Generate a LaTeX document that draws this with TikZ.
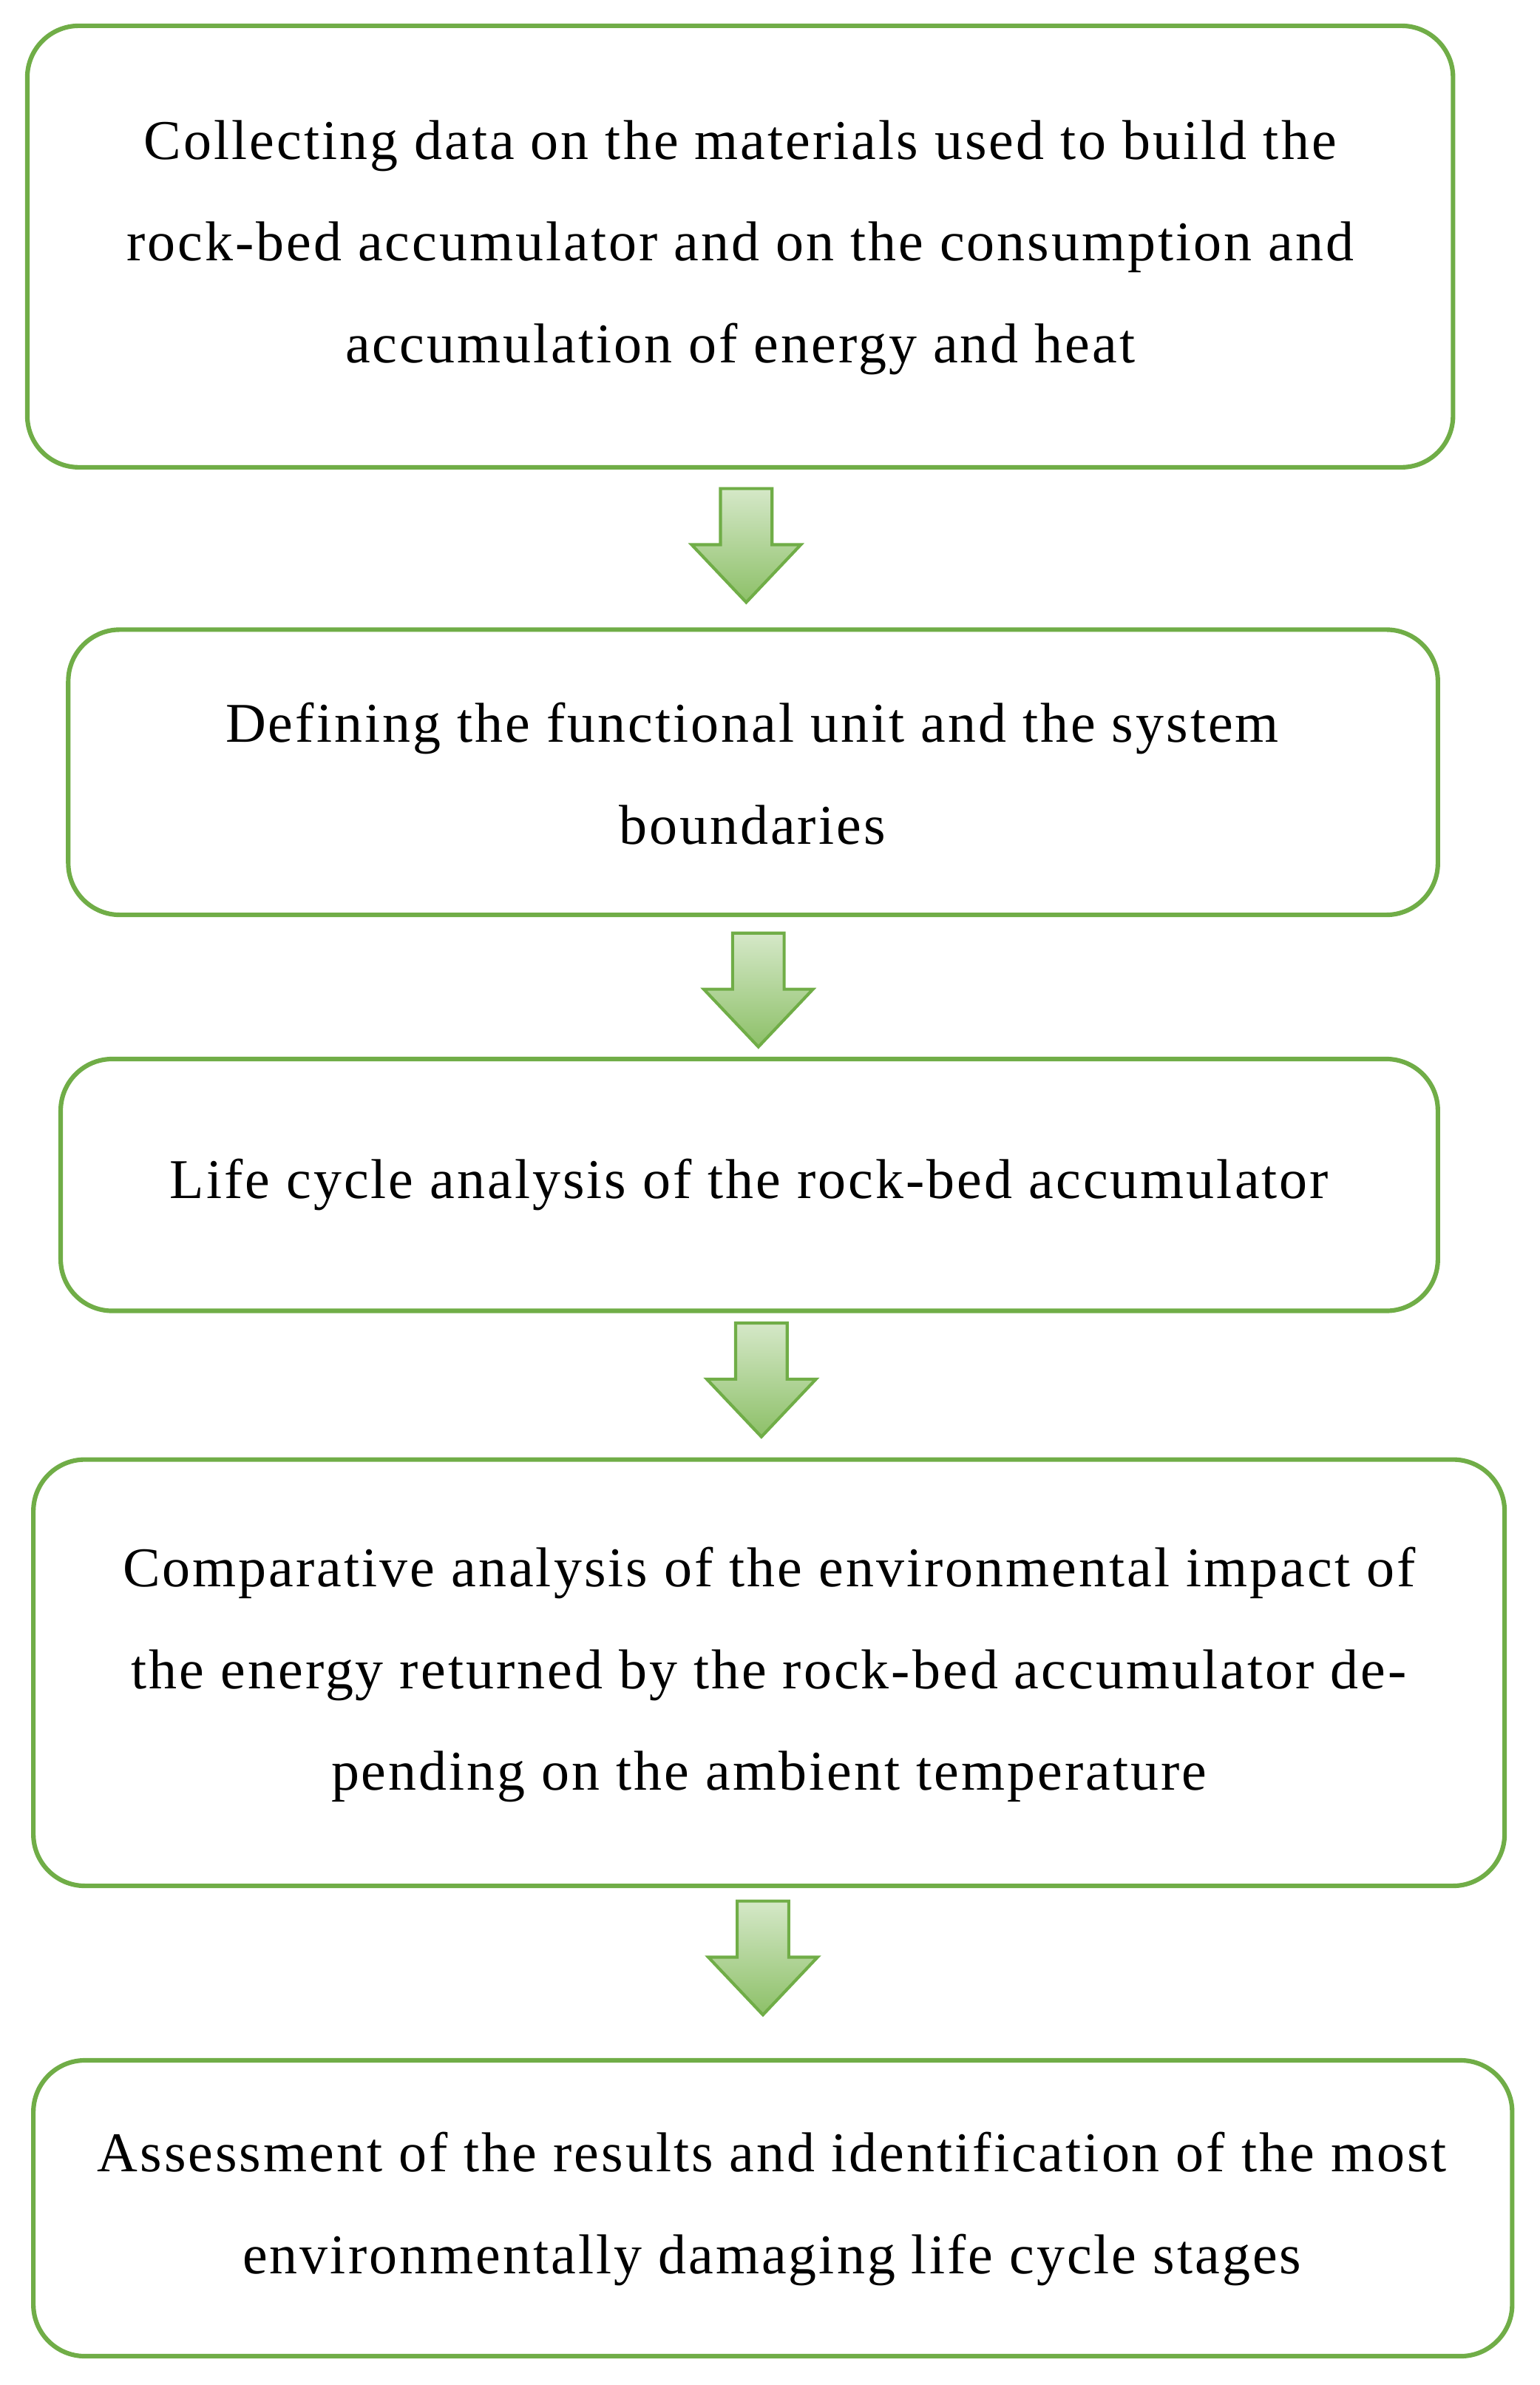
\documentclass[tikz,border=0pt]{standalone}
\usepackage{fontspec}
\setmainfont{Liberation Serif}[LetterSpace=4]
\begin{document}
\begin{tikzpicture}[x=1pt,y=-1pt,
 box/.style={draw=gbord,line width=3pt,rounded corners=34pt},
 txt/.style={align=center,font=\fontsize{37}{67}\selectfont},
 arr/.style={draw=gbord,line width=2pt,top color=gtop,bottom color=gbot,line join=miter}]
\definecolor{gbord}{HTML}{70AD47}
\definecolor{gtop}{HTML}{D5E8C8}
\definecolor{gbot}{HTML}{8DC068}
\useasboundingbox (0,0) rectangle (1015,1572);
\draw[box] (18,17) rectangle (958,308);
\node[txt] (t1) at (488,163) {Collecting data on the materials used to build the\\rock-bed accumulator and on the consumption and\\accumulation of energy and heat};
\draw[box] (45,415) rectangle (948,603);
\node[txt] (t2) at (496,510) {Defining the functional unit and the system\\boundaries};
\draw[box] (40,698) rectangle (948,864);
\node[txt] (t3) at (494,781) {Life cycle analysis of the rock-bed accumulator};
\draw[box] (22,962) rectangle (992,1243);
\node[txt] (t4) at (507,1104) {Comparative analysis of the environmental impact of\\the energy returned by the rock-bed accumulator de-\\pending on the ambient temperature};
\draw[box] (22,1358) rectangle (997,1553);
\node[txt] (t5) at (509,1456) {Assessment of the results and identification of the most\\environmentally damaging life cycle stages};
\foreach \cx/\ty in {492/322, 500/615, 502/872, 503/1253}{
 \draw[arr] (\cx-17,\ty) -- (\cx+17,\ty) -- (\cx+17,\ty+37) -- (\cx+36,\ty+37) -- (\cx,\ty+75) -- (\cx-36,\ty+37) -- (\cx-17,\ty+37) -- cycle;
}
\end{tikzpicture}
\end{document}
